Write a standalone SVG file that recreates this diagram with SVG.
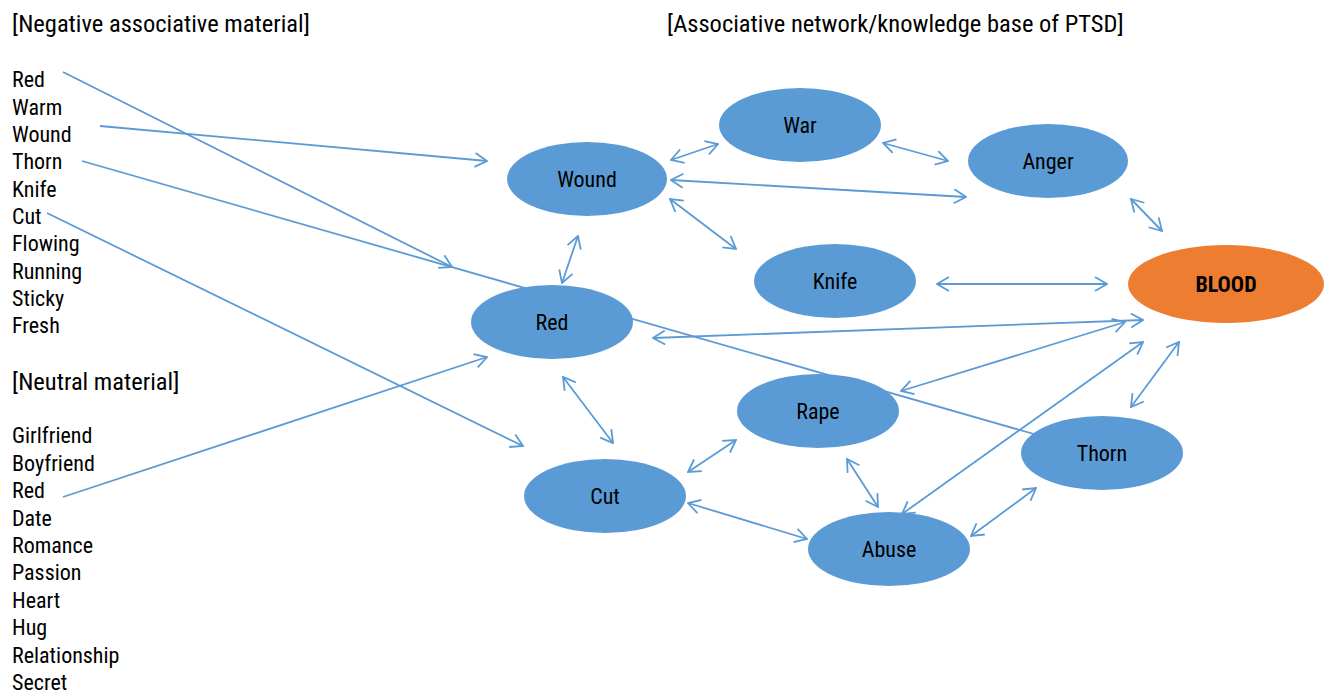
<svg xmlns="http://www.w3.org/2000/svg" width="1325" height="693" viewBox="0 0 1325 693">
<style>
text{font-family:"Liberation Sans Narrow","Roboto Condensed","DejaVu Sans Condensed","Liberation Sans",sans-serif;font-size:22px;fill:#000}
.h{font-size:24.5px}
.n{fill:#5B9BD5}
.o{fill:#ED7D31}
.lbl{text-anchor:middle}
.b{font-weight:bold}
.c line{stroke:#5B9BD5;stroke-width:1.8;fill:none}
.a{marker-end:url(#ah)}
.d{marker-start:url(#ah);marker-end:url(#ah)}
</style>
<defs>
<marker id="ah" viewBox="0 0 14 16" refX="13" refY="8" markerWidth="14" markerHeight="16" markerUnits="userSpaceOnUse" orient="auto-start-reverse">
<path d="M1,1 L13,8 L1,15" fill="none" stroke="#5B9BD5" stroke-width="1.8"/>
</marker>
</defs>
<rect width="1325" height="693" fill="#fff"/>
<g id="through-lines" class="c">
<line x1="82" y1="161" x2="1100" y2="453"/>
</g>
<g id="nodes">
<g id="node-war"><ellipse class="n" cx="800" cy="125" rx="81" ry="37"/><text class="lbl" x="800" y="133">War</text></g>
<g id="node-wound"><ellipse class="n" cx="587" cy="179" rx="80" ry="37"/><text class="lbl" x="587" y="187">Wound</text></g>
<g id="node-anger"><ellipse class="n" cx="1048" cy="161" rx="80" ry="37"/><text class="lbl" x="1048" y="169">Anger</text></g>
<g id="node-blood"><ellipse class="o" cx="1226" cy="284" rx="98" ry="39"/><text class="lbl b" x="1226" y="292">BLOOD</text></g>
<g id="node-knife"><ellipse class="n" cx="835" cy="281" rx="81" ry="37"/><text class="lbl" x="835" y="289">Knife</text></g>
<g id="node-red"><ellipse class="n" cx="552" cy="322" rx="81" ry="37"/><text class="lbl" x="552" y="330">Red</text></g>
<g id="node-rape"><ellipse class="n" cx="818" cy="411" rx="81" ry="37"/><text class="lbl" x="818" y="419">Rape</text></g>
<g id="node-cut"><ellipse class="n" cx="605" cy="496" rx="81" ry="37"/><text class="lbl" x="605" y="504">Cut</text></g>
<g id="node-abuse"><ellipse class="n" cx="889" cy="549" rx="81" ry="37"/><text class="lbl" x="889" y="557">Abuse</text></g>
<g id="node-thorn"><ellipse class="n" cx="1102" cy="453" rx="81" ry="37"/><text class="lbl" x="1102" y="461">Thorn</text></g>
</g>
<g id="connectors" class="c">
<line class="a" x1="63" y1="72" x2="452" y2="267"/>
<line class="a" x1="100" y1="126" x2="487" y2="161"/>
<line class="a" x1="47" y1="213" x2="523" y2="446"/>
<line class="a" x1="63" y1="497" x2="487" y2="357"/>
<line class="d" x1="671" y1="160" x2="718" y2="144"/>
<line class="d" x1="883" y1="143" x2="948" y2="161"/>
<line class="d" x1="671" y1="180" x2="966" y2="197"/>
<line class="d" x1="670" y1="199" x2="736" y2="249"/>
<line class="d" x1="578" y1="236" x2="562" y2="283"/>
<line class="d" x1="1131" y1="199" x2="1162" y2="231"/>
<line class="d" x1="937" y1="284" x2="1107" y2="284"/>
<line class="d" x1="653" y1="338" x2="1143" y2="320"/>
<line class="d" x1="901" y1="391" x2="1125" y2="322"/>
<line class="d" x1="902" y1="514" x2="1143" y2="342"/>
<line class="d" x1="1131" y1="407" x2="1179" y2="342"/>
<line class="d" x1="563" y1="377" x2="613" y2="443"/>
<line class="d" x1="688" y1="472" x2="736" y2="440"/>
<line class="d" x1="688" y1="503" x2="807" y2="539"/>
<line class="d" x1="847" y1="459" x2="878" y2="507"/>
<line class="d" x1="971" y1="536" x2="1036" y2="488"/>
</g>
<g id="headers">
<text class="h" x="12" y="32">[Negative associative material]</text>
<text class="h" x="667" y="32">[Associative network/knowledge base of PTSD]</text>
<text class="h" x="12" y="390">[Neutral material]</text>
</g>
<g id="negative-list">
<text x="12" y="87">Red</text>
<text x="12" y="114.5">Warm</text>
<text x="12" y="142">Wound</text>
<text x="12" y="169">Thorn</text>
<text x="12" y="196.5">Knife</text>
<text x="12" y="224">Cut</text>
<text x="12" y="251">Flowing</text>
<text x="12" y="278.5">Running</text>
<text x="12" y="306">Sticky</text>
<text x="12" y="333">Fresh</text>
</g>
<g id="neutral-list">
<text x="12" y="443">Girlfriend</text>
<text x="12" y="470.5">Boyfriend</text>
<text x="12" y="498">Red</text>
<text x="12" y="525.5">Date</text>
<text x="12" y="553">Romance</text>
<text x="12" y="580">Passion</text>
<text x="12" y="607.5">Heart</text>
<text x="12" y="635">Hug</text>
<text x="12" y="662.5">Relationship</text>
<text x="12" y="690">Secret</text>
</g>
</svg>
